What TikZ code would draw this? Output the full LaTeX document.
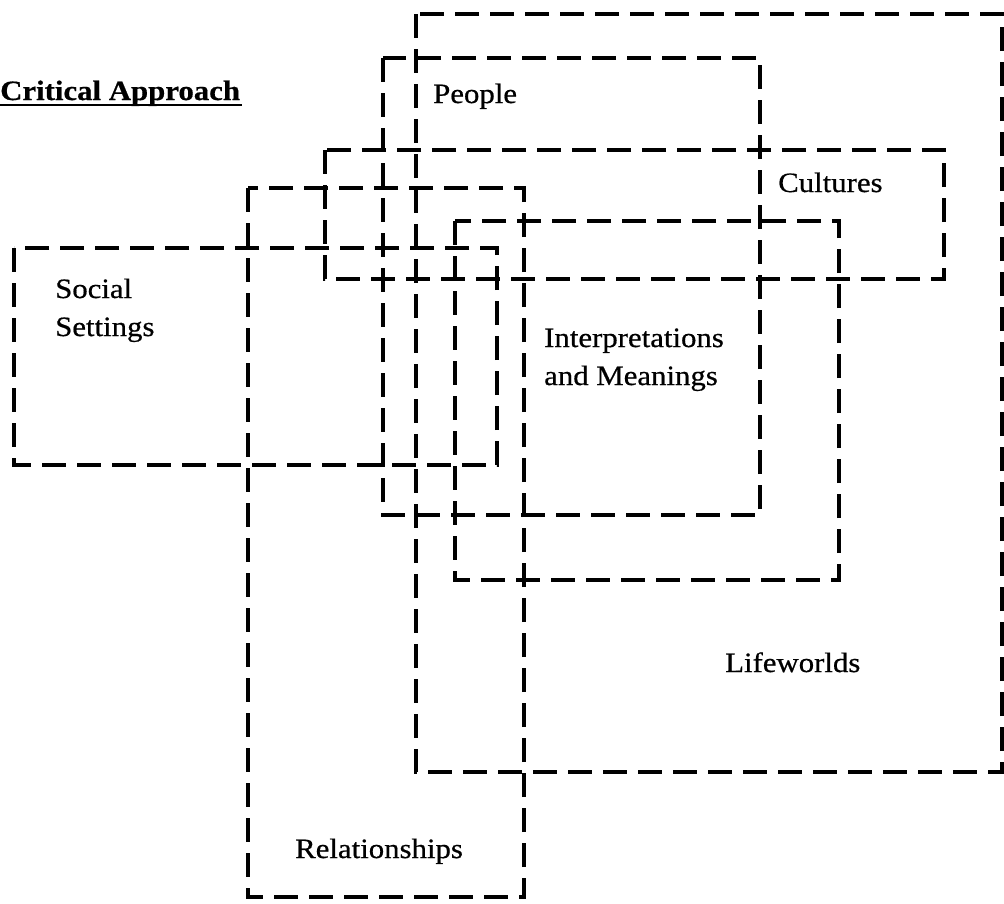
\documentclass[tikz,border=0pt]{standalone}
\usepackage{fontspec}
\setmainfont{Liberation Serif}[FakeStretch=1.1,FakeBold=0.6]
\begin{document}
\begin{tikzpicture}[x=1pt,y=-1pt,
  dashbox/.style={draw=black,line width=3.8pt,dash pattern=on 24pt off 11pt,line join=miter},
  lbl/.style={inner sep=0pt,anchor=base west,font=\fontsize{28}{38}\selectfont},
  lbltwo/.style={inner sep=0pt,anchor=base west,font=\fontsize{28}{38}\selectfont}]
\useasboundingbox (0,0) rectangle (1004,903);
% boxes
\draw[dashbox] (416,14) rectangle (1002,772);   % Lifeworlds
\draw[dashbox] (383,58) rectangle (760,515);    % People
\draw[dashbox] (325,150) rectangle (944,279);   % Cultures
\draw[dashbox] (248,188) rectangle (524,897);   % Relationships
\draw[dashbox] (14,248) rectangle (497,465);    % Social Settings
\draw[dashbox] (455,221) rectangle (839,580);   % Interpretations
% labels
\node[lbl,font=\fontsize{28}{38}\selectfont\bfseries] (title) at (0,100) {Critical Approach};
\draw[line width=2.2pt] (title.base west) ++(0,5) -- ++(242,0);
\node[lbl] (people) at (433,103) {People};
\node[lbl] (cultures) at (778,192) {Cultures};
\node[lbltwo] (social) at (55,298) {\begin{tabular}[t]{@{}l@{}}Social\\Settings\end{tabular}};
\node[lbltwo] (interp) at (544,347) {\begin{tabular}[t]{@{}l@{}}Interpretations\\and Meanings\end{tabular}};
\node[lbl] (life) at (725,672) {Lifeworlds};
\node[lbl] (rel) at (295,858) {Relationships};
\end{tikzpicture}
\end{document}
